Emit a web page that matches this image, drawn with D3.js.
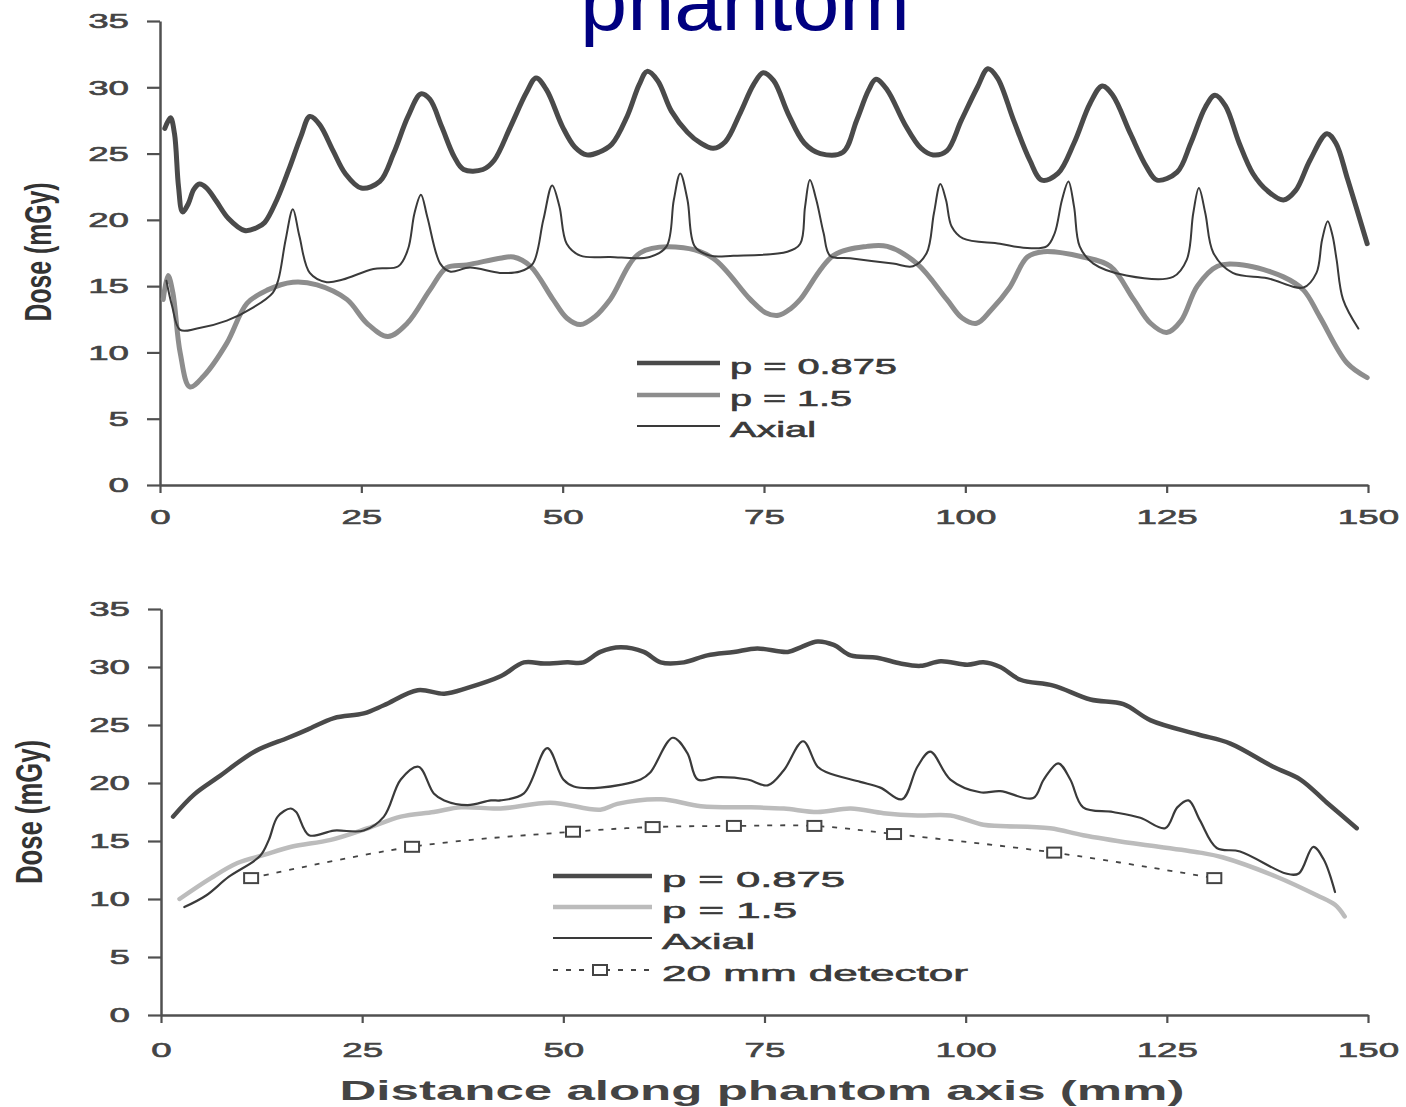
<!DOCTYPE html>
<html>
<head>
<meta charset="utf-8">
<script src="https://cdn.jsdelivr.net/npm/d3@7"></script>
<style>
  body { margin: 0; background: #fff; }
  svg { display: block; }
  text { font-family: "Liberation Sans", Arial, sans-serif; }
</style>
</head>
<body>
<svg id="chart" width="1406" height="1107"></svg>
<script>
//////////////////////////////////////////////////////////////////////////////
// Data (x in mm, dose in mGy)

var xTicks = [0, 25, 50, 75, 100, 125, 150];
var yTicks = [0, 5, 10, 15, 20, 25, 30, 35];

var topP0875 = [[0.6,26.9],[1.3,27.7],[1.8,26.5],[2.3,22.5],[2.8,20.6],[3.5,21.2],[4.2,22.3],[4.9,22.7],
  [5.8,22.4],[7,21.4],[8.5,20.1],[10.5,19.2],[12,19.4],[13,19.8],[14.5,21.5],[16,23.8],[17.5,26.3],
  [18.6,27.8],[19.8,27.2],[21.5,25.2],[23,23.5],[25,22.4],[27.3,22.9],[29,25],[30.8,27.8],[32.4,29.5],
  [33.5,29.1],[35,27],[36.5,24.8],[37.7,23.8],[40.1,23.8],[41.5,24.5],[43.5,27],[45.5,29.6],[46.7,30.7],
  [48,29.8],[50,27],[51.5,25.5],[53,24.9],[54.5,25.1],[56.1,25.7],[58,27.8],[59.5,30.2],[60.5,31.2],
  [61.8,30.5],[63.5,28.2],[65.5,26.6],[67.1,25.8],[68.7,25.4],[70.2,25.9],[72,28],[73.7,30.2],[74.9,31.1],
  [76.2,30.5],[78,28],[80,25.8],[82,25],[84.8,25.1],[86.5,27.5],[88,29.8],[88.9,30.6],[90.3,29.8],
  [92.5,27.2],[94.5,25.4],[96,24.9],[97.7,25.2],[99.5,27.5],[101.5,30],[102.8,31.4],[104,30.7],[106,27.5],
  [108,24.5],[109.5,23],[111.5,23.5],[113.5,25.8],[115.5,28.8],[117,30.1],[118.3,29.4],[120.5,26.5],
  [122.5,24],[123.8,23],[126.3,23.6],[128,25.8],[129.8,28.5],[131,29.4],[132.3,28.6],[134,25.8],
  [135.7,23.5],[137.5,22.2],[139.5,21.5],[141,22.2],[142.8,24.5],[144.9,26.5],[146,25.8],[147.5,23],
  [149.9,18.2]];

var topP15 = [[0.4,14],[1,15.8],[1.6,14.5],[2.5,10],[3.7,7.4],[5.4,8.2],[8.3,10.7],[10.8,13.7],[13.3,14.7],
  [16.5,15.3],[19.5,15.1],[23.2,14],[25.7,12.2],[28.3,11.2],[30.7,12.2],[33.5,14.7],[35.6,16.4],
  [38.1,16.6],[42.2,17.1],[43.9,17.2],[46,16.5],[48.8,14],[50.5,12.6],[52.2,12.1],[54,12.7],[55.9,14],
  [59.6,17.5],[65,17.9],[68.7,17.1],[73.3,14],[75.2,13],[76.8,12.8],[78.3,13.3],[79.5,14],[83.6,17.3],
  [87.8,18],[90.3,18],[94,16.7],[97.7,14],[99.6,12.6],[101.4,12.2],[103.2,13.2],[105.5,14.9],[107.7,17.2],
  [109.7,17.6],[114.6,17.2],[118,16.5],[120.9,14],[123,12.2],[125,11.5],[126.8,12.4],[128.8,15],
  [131.3,16.5],[134.5,16.6],[139.5,15.7],[142,14.7],[144,12.7],[147.4,9.2],[149.9,8.1]];

var topAxial = [[0.8,15.4],[1.5,13.5],[2.5,11.7],[4.6,11.8],[8.3,12.4],[11.6,13.4],[14,14.5],[14.7,15.5],
  [15.6,18.5],[16.5,20.8],[17.3,18.8],[18.6,16],[20.7,15.3],[22.7,15.5],[26.5,16.3],[29.6,16.5],[30.8,17.8],
  [31.6,20.5],[32.4,21.9],[33.2,20.2],[34.8,16.7],[36,16.1],[38.5,16.4],[42.2,16],[44.7,16.1],[46.3,16.7],
  [47.6,20],[48.7,22.6],[49.6,21],[50.5,18.2],[52.2,17.3],[55.9,17.2],[60.8,17.2],[62.9,18],[63.8,21.5],
  [64.6,23.5],[65.5,21.5],[66.4,18],[68.3,17.3],[71.2,17.3],[77.9,17.6],[79.5,18.2],[80.1,21],[80.7,23],
  [81.5,21.5],[82.4,19],[83.2,17.3],[85.7,17.1],[91,16.7],[93.5,16.5],[95.2,17.5],[96.1,20.5],[96.9,22.7],
  [97.6,21.5],[98.3,19.5],[99.7,18.6],[104.3,18.2],[107.2,17.9],[110.1,18],[111.1,19],[112,21.5],
  [112.8,22.9],[113.5,21],[114.2,18],[115.9,16.7],[120,15.8],[125.8,15.7],[127.5,17],[128.3,20.5],
  [129,22.4],[129.8,20.5],[130.8,17.5],[133.2,16],[137.5,15.6],[142,14.9],[143.6,16],[144.3,18.5],
  [145,19.9],[145.6,18.8],[146.1,17],[146.9,14],[148.8,11.8]];

var botP0875 = [[1.5,17.1],[4.1,19],[7.1,20.5],[11.6,22.7],[15.8,23.9],[18.2,24.6],[21.5,25.6],[25.2,26],
  [27.7,26.7],[31.9,28],[35.2,27.7],[38.1,28.2],[42.2,29.2],[45.1,30.4],[47.6,30.3],[50.5,30.4],
  [52.5,30.4],[54.6,31.3],[57.1,31.7],[60,31.3],[62.1,30.4],[65,30.4],[67.9,31],[71.2,31.3],[74.1,31.6],
  [77.9,31.3],[79.5,31.7],[81.6,32.2],[83.6,31.9],[85.7,31],[89,30.8],[91.9,30.3],[94.4,30.1],[96.9,30.5],
  [100.2,30.2],[102.2,30.4],[104.3,30],[106.8,28.9],[110.9,28.4],[115.5,27.2],[119.6,26.8],[123,25.4],
  [128.8,24.2],[132.9,23.4],[138.2,21.4],[141.6,20.3],[144.9,18.3],[148.6,16.1]];

var botP15 = [[2.3,10],[6.2,11.8],[9.5,13.1],[12.8,13.8],[16.2,14.5],[21.1,15.1],[25.7,16.1],[29.8,17.1],
  [33.9,17.5],[37.3,17.9],[42.2,17.8],[48.4,18.3],[54.6,17.7],[56.7,18.2],[62.1,18.6],[67.1,18],
  [73.3,17.9],[77.4,17.8],[81.6,17.5],[85.7,17.8],[89.8,17.4],[94,17.2],[98.1,17.2],[102.2,16.4],
  [104.3,16.3],[110.5,16.1],[114.6,15.5],[120.8,14.8],[129.1,14],[131.9,13.6],[138.7,11.9],[143.7,10.3],
  [145.9,9.5],[147.1,8.5]];

var botAxial = [[2.9,9.3],[5.6,10.3],[8.4,11.9],[12.3,13.7],[13.4,15.1],[14.5,17.1],[16.1,17.8],[16.8,17.5],
  [18.4,15.5],[21.5,15.9],[25.2,15.9],[27.7,17.1],[29.8,20.3],[32,21.4],[33.9,19.1],[35.2,18.5],[38.1,18.1],
  [41,18.5],[42.2,18.5],[45.1,19.1],[48,23],[50,20.3],[51.3,19.7],[54.6,19.6],[59.6,20.3],[60.8,20.9],
  [63.6,23.9],[65.4,22.6],[66.7,20.3],[69.2,20.5],[72.9,20.3],[75.4,19.8],[77.4,21.1],[79.8,23.6],
  [81.6,21.4],[82.8,20.9],[86.9,20.1],[89.4,19.6],[92.1,18.6],[94,21.4],[95.6,22.7],[98.1,20.3],
  [101.8,19.2],[104.3,19.3],[108.4,18.7],[109.7,20.3],[111.5,21.7],[113,20.3],[114.6,17.9],[118.3,17.5],
  [121.7,17],[124.8,16.1],[126.3,17.9],[127.7,18.5],[129.1,16.8],[131.2,14.4],[134.1,14.1],[139.8,12.2],
  [141.4,12.2],[143.2,14.5],[144.5,13.4],[145.9,10.6]];

var detector = [[11.2,11.8],[31.2,14.5],[51.2,15.8],[61.1,16.2],[71.2,16.3],[81.2,16.3],[91.1,15.6],
  [111,14.0],[130.9,11.8]];

var topLegend = ["p = 0.875", "p = 1.5", "Axial"];
var botLegend = ["p = 0.875", "p = 1.5", "Axial", "20 mm detector"];

//////////////////////////////////////////////////////////////////////////////
// Styles

var dark = "#4a4a4a", axialCol = "#3a3a3a", midGray = "#8d8d8d", lightGray = "#bcbcbc", axisCol = "#505050";
var textCol = "#444";
var svg = d3.select("#chart");

svg.append("text")
    .attr("x", 745).attr("y", 30)
    .attr("text-anchor", "middle")
    .attr("font-size", 82)
    .attr("fill", "#000080")
    .attr("textLength", 330)
    .attr("lengthAdjust", "spacingAndGlyphs")
    .text("phantom");

function makePanel(p)
{
    var x = d3.scaleLinear().domain([0, 150]).range([p.left, p.right]);
    var y = d3.scaleLinear().domain([0, 35]).range([p.bottom, p.top]);

    var gy = svg.append("g")
        .attr("transform", "translate(" + p.left + ",0)")
        .call(d3.axisLeft(y).tickValues(yTicks).tickSize(13).tickSizeOuter(0));
    var gx = svg.append("g")
        .attr("transform", "translate(0," + p.bottom + ")")
        .call(d3.axisBottom(x).tickValues(xTicks).tickSize(8).tickSizeOuter(0));

    [gy, gx].forEach(function(g) {
        g.select(".domain").attr("stroke", axisCol).attr("stroke-width", 2.5);
        g.selectAll(".tick line").attr("stroke", axisCol).attr("stroke-width", 2.2);
        g.selectAll(".tick text")
            .attr("font-size", 21)
            .attr("fill", textCol)
            .attr("stroke", textCol)
            .attr("stroke-width", 0.6)
            .attr("font-family", "'Liberation Sans', Arial, sans-serif");
    });
    gy.selectAll(".tick text").attr("x", -31 / 1.75).attr("transform", "scale(1.75,1)");
    gx.selectAll(".tick text").attr("y", p.labelGap).attr("transform", "scale(1.75,1)");

    svg.append("text")
        .attr("transform", "translate(" + p.titleX + "," + p.titleY + ") rotate(-90)")
        .attr("text-anchor", "middle")
        .attr("dominant-baseline", "central")
        .attr("font-size", 36)
        .attr("font-weight", "bold")
        .attr("fill", "#333")
        .attr("textLength", p.titleLen)
        .attr("lengthAdjust", "spacingAndGlyphs")
        .text("Dose (mGy)");

    return { x: x, y: y };
}

function drawLine(s, data, color, width, curve)
{
    var line = d3.line()
        .x(function(d) { return s.x(d[0]); })
        .y(function(d) { return s.y(d[1]); })
        .curve(curve || d3.curveCatmullRom.alpha(0.5));
    return svg.append("path")
        .datum(data)
        .attr("d", line)
        .attr("fill", "none")
        .attr("stroke", color)
        .attr("stroke-width", width)
        .attr("stroke-linejoin", "round")
        .attr("stroke-linecap", "round");
}

function legendRow(x1, x2, yy, label, color, width, textLen, dash)
{
    var l = svg.append("line")
        .attr("x1", x1).attr("x2", x2).attr("y1", yy).attr("y2", yy)
        .attr("stroke", color).attr("stroke-width", width);
    if (dash) l.attr("stroke-dasharray", dash);
    svg.append("text")
        .attr("x", x2 + 10).attr("y", yy + 11)
        .attr("font-size", 22)
        .attr("fill", "#3a3a3a")
        .attr("stroke", "#3a3a3a")
        .attr("stroke-width", 0.6)
        .attr("textLength", textLen)
        .attr("lengthAdjust", "spacingAndGlyphs")
        .text(label);
}

//////////////////////////////////////////////////////////////////////////////
// Top panel

var top1 = makePanel({ left: 160, right: 1368, top: 21, bottom: 485, labelGap: 24,
                       titleX: 38, titleY: 252, titleLen: 139 });
drawLine(top1, topP15, midGray, 5);
drawLine(top1, topAxial, axialCol, 2);
drawLine(top1, topP0875, dark, 5);

legendRow(637, 720, 363, topLegend[0], dark, 4.5, 167);
legendRow(637, 720, 395, topLegend[1], midGray, 4.5, 122);
legendRow(637, 720, 426, topLegend[2], axialCol, 2, 86);

//////////////////////////////////////////////////////////////////////////////
// Bottom panel

var bot = makePanel({ left: 161, right: 1368, top: 609, bottom: 1015, labelGap: 27,
                      titleX: 29, titleY: 812, titleLen: 144 });
drawLine(bot, botP15, lightGray, 4.5);
drawLine(bot, detector, "#444", 1.8).attr("stroke-dasharray", "5,8").attr("stroke-linecap", "butt");
drawLine(bot, botAxial, axialCol, 2.2);
drawLine(bot, botP0875, dark, 4.5);

svg.append("g").selectAll("rect")
    .data(detector)
    .enter()
    .append("rect")
    .attr("x", function(d) { return bot.x(d[0]) - 7; })
    .attr("y", function(d) { return bot.y(d[1]) - 5; })
    .attr("width", 14)
    .attr("height", 10)
    .attr("fill", "#fff")
    .attr("stroke", "#444")
    .attr("stroke-width", 2);

legendRow(553, 652, 876, botLegend[0], dark, 4.5, 183);
legendRow(553, 652, 907, botLegend[1], lightGray, 4.5, 135);
legendRow(553, 652, 938, botLegend[2], axialCol, 2, 93);
legendRow(553, 652, 970, botLegend[3], "#444", 1.8, 306, "5,8");
svg.append("rect")
    .attr("x", 593).attr("y", 965).attr("width", 14).attr("height", 10)
    .attr("fill", "#fff").attr("stroke", "#444").attr("stroke-width", 2);

svg.append("text")
    .attr("x", 762).attr("y", 1100)
    .attr("text-anchor", "middle")
    .attr("font-size", 27)
    .attr("font-weight", "bold")
    .attr("fill", "#444")
    .attr("textLength", 845)
    .attr("lengthAdjust", "spacingAndGlyphs")
    .text("Distance along phantom axis (mm)");
</script>
</body>
</html>
